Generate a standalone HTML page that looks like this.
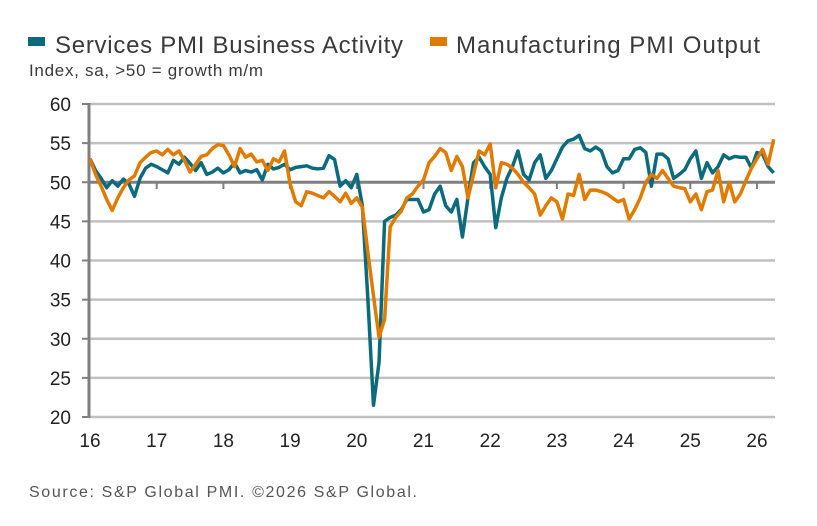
<!DOCTYPE html>
<html><head><meta charset="utf-8"><style>
body{margin:0;background:#fff;font-family:"Liberation Sans",sans-serif;}
svg{display:block}
</style></head><body>
<svg id="c" width="817" height="526">
<rect x="28" y="37" width="17" height="9" fill="#0b6b7d"/>
<text x="55" y="53" font-size="24" fill="#3a3a3a" textLength="348">Services PMI Business Activity</text>
<rect x="430" y="37" width="17" height="9" fill="#e07b00"/>
<text x="456" y="53" font-size="24" fill="#3a3a3a" textLength="304">Manufacturing PMI Output</text>
<text x="29" y="76" font-size="17" fill="#3a3a3a" textLength="234">Index, sa, &gt;50 = growth m/m</text>
<text x="29" y="497" font-size="16" fill="#555" textLength="388">Source: S&amp;P Global PMI. ©2026 S&amp;P Global.</text>
<g id="grid"></g><g id="series"></g>
</svg>
<script>
const yTicks=[20,25,30,35,40,45,50,55,60];
const xLabels=["16","17","18","19","20","21","22","23","24","25","26"];
const services=[53,51.5,50.5,49.3,50.2,49.5,50.4,49.8,48.2,50.5,51.8,52.3,
52,51.6,51.2,52.8,52.3,53.2,52.4,51.5,52.5,51.0,51.3,51.8,
51.2,51.6,52.5,51.2,51.5,51.3,51.6,50.3,52.3,51.7,51.9,52.3,
51.6,51.9,52.0,52.1,51.8,51.7,51.8,53.4,52.9,49.5,50.2,49.3,
51.0,47.0,35.0,21.5,27.0,45.0,45.5,45.8,46.5,47.8,47.8,47.8,
46.2,46.5,48.5,49.5,47.0,46.2,47.8,43.0,48.0,52.5,53.2,52.0,
51.0,44.2,48.0,50.5,52.0,54.0,51.0,50.3,52.5,53.5,50.5,51.5,
53.0,54.5,55.3,55.5,56.0,54.3,54.0,54.5,54.0,52.0,51.2,51.5,
53.0,53.0,54.2,54.4,53.8,49.5,53.6,53.6,53.0,50.5,51.0,51.6,
53.0,54.0,50.5,52.5,51.2,52.0,53.5,53.0,53.3,53.2,53.2,51.8,
53.8,53.6,52.0,51.2];
const manufacturing=[53,51,49.5,47.8,46.4,48,49.3,50.3,50.8,52.5,53.2,53.8,
54.0,53.5,54.2,53.5,54.0,52.8,51.3,52.3,53.3,53.5,54.3,54.8,
54.7,53.5,52.0,54.3,53.2,53.6,52.6,52.8,51.5,53.0,52.6,54.0,
49.8,47.5,47.0,48.8,48.6,48.3,48.0,48.8,48.2,47.5,48.6,47.3,
48.0,46.8,41.0,35.5,30.2,32.5,44.3,45.5,46.3,48.0,48.5,49.5,
50.3,52.5,53.3,54.3,53.8,51.5,53.3,52.0,48.0,51.0,54.0,53.5,
54.9,49.3,52.5,52.3,51.8,51.0,50.0,49.3,48.5,45.8,47.0,48.0,
47.5,45.3,48.5,48.3,51.0,47.8,49.0,49.0,48.8,48.5,48.0,47.5,
47.8,45.3,46.5,48.0,50.0,51.0,50.5,51.5,50.5,49.5,49.3,49.2,
47.5,48.5,46.5,48.8,49.0,51.5,47.5,50.0,47.5,48.5,50.2,51.8,
53.0,54.2,52.3,55.5];
const NS="http://www.w3.org/2000/svg";
const X0=90,YEAR=66.7,X1=775;
const y=v=>104+(60-v)*(313/40);
const x=i=>X0+i*YEAR/12;
const g=document.getElementById('grid'),s=document.getElementById('series');
function mk(tag,at,p){const e=document.createElementNS(NS,tag);for(const k in at)e.setAttribute(k,at[k]);p.appendChild(e);return e;}
yTicks.forEach(v=>{
  const l=mk('line',{x1:89,x2:X1,y1:y(v),y2:y(v),stroke:v===50?'#7f7f7f':'#c0c0c0','stroke-width':v===50?3:2.5},g);
  
  
  const t=mk('line',{x1:82,x2:89,y1:y(v),y2:y(v),stroke:'#7f7f7f','stroke-width':2},g);
  
  
  const tx=mk('text',{x:71,y:y(v)+7,'font-size':19,'text-anchor':'end',fill:'#222'},g);
  tx.textContent=v;
  
  
});
const ax=mk('line',{x1:89,x2:89,y1:103,y2:418,stroke:'#7f7f7f','stroke-width':3},g);


xLabels.forEach((lb,i)=>{
  const xx=X0+i*YEAR;
  if(i>0){const t=mk('line',{x1:xx,x2:xx,y1:182,y2:189,stroke:'#7f7f7f','stroke-width':2},g);
  
  }
  const tx=mk('text',{x:xx,y:447,'font-size':19,'text-anchor':'middle',fill:'#222'},g);
  tx.textContent=lb;
  
  
});
function line(arr,col,name){
  const p=mk('polyline',{points:arr.map((v,i)=>x(i)+','+y(v)).join(' '),fill:'none',stroke:col,'stroke-width':3.5,'stroke-linejoin':'round'},s);
  
  
}
line(services,'#0b6b7d','services-line');
line(manufacturing,'#e07b00','manufacturing-line');
</script>
</body></html>
